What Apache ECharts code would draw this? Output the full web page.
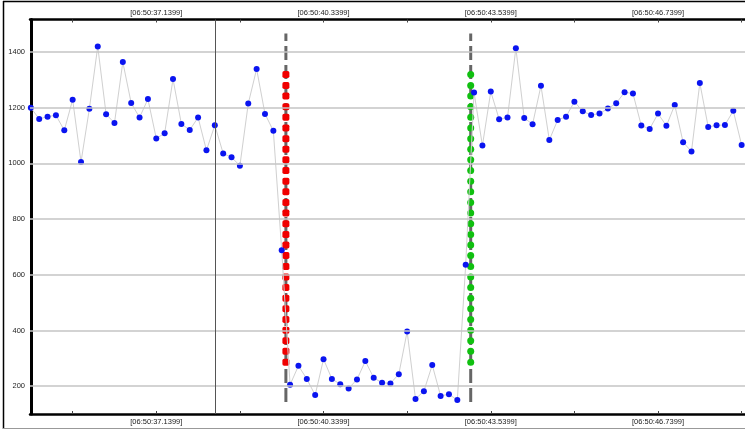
<!DOCTYPE html>
<html>
<head>
<meta charset="utf-8">
<script src="https://cdn.jsdelivr.net/npm/echarts@6/dist/echarts.min.js"></script>
<style>html,body{margin:0;padding:0;background:#fff;}#c{width:745px;height:430px;}</style>
</head>
<body>
<div id="c"></div>
<script>
// Sample readings, one every 0.16 s, starting at 06:50:34.7399
const values = [1200,1160,1168,1173,1119,1229,1005,1196,1420,1177,
  1145,1364,1217,1165,1231,1090,1108,1303,1142,1120,
  1165,1047,1137,1036,1022,992,1215,1339,1178,1117,
  688,205,273,226,168,297,226,207,192,224,
  290,230,212,210,243,396,154,182,276,165,
  171,150,636,1255,1064,1258,1159,1165,1414,1163,
  1141,1279,1084,1156,1168,1222,1187,1174,1179,1197,
  1216,1256,1251,1136,1124,1179,1135,1210,1076,1043,
  1289,1131,1137,1138,1189,1066];
// Tick labels and the sample index where they sit
const tickLabels = ['[06:50:37.1399]','[06:50:40.3399]','[06:50:43.5399]','[06:50:46.7399]'];
const tickLabelIdx = [15,35,55,75];
const minorTickIdx = [5,15,25,35,45,55,65,75,85];
const yTicks = [200,400,600,800,1000,1200,1400];
// Cursor line position (sample index)
const cursorIdx = 22;
// Event marker columns (sample index) and the marker dot values
const redX = 30.5;
const greenX = 52.6;
const markerSpan = [143,1467];
const redDots = [1319,1280,1242,1204,1166,1127,1089,1051,1013,975,936,898,860,822,783,745,707,669,630,592,554,516,478,439,401,363,325,286];
const greenDots = [1319,1280,1242,1204,1166,1127,1089,1051,1013,975,936,898,860,822,783,745,707,669,630,592,554,516,478,439,401,363,325,286];

const chart = echarts.init(document.getElementById('c'), null, {renderer:'canvas'});
const FONT = 'Liberation Sans';
const fmt = v => { const i = tickLabelIdx.indexOf(Math.round(v)); return i >= 0 ? tickLabels[i] : ''; };
const xCommon = {
  type:'value', min:-0.1, max:85.4,
  splitLine:{show:false},
  axisTick:{show:true, inside:true, length:3, customValues:minorTickIdx, lineStyle:{color:'#444', width:1}},
  axisLabel:{customValues:tickLabelIdx, formatter:fmt, fontSize:7.5, fontFamily:FONT, color:'#222', margin:4},
  axisLine:{show:true, onZero:false, lineStyle:{color:'#000', width:2.5}}
};
const blueData = values.map((v,i)=>[i,v]);
chart.setOption({
  animation:false,
  backgroundColor:'#fff',
  grid:{left:30, right:0, top:19.5, bottom:16, containLabel:false},
  xAxis:[
    Object.assign({}, xCommon, {position:'bottom'}),
    Object.assign({}, xCommon, {position:'top', axisLabel:Object.assign({}, xCommon.axisLabel, {margin:3})})
  ],
  yAxis:{
    type:'value', min:100, max:1517,
    splitLine:{show:false},
    axisTick:{show:false},
    axisLine:{show:true, lineStyle:{color:'#000', width:3}},
    axisLabel:{customValues:yTicks, formatter:v=>String(v), fontSize:7.5, fontFamily:FONT, color:'#222', margin:5}
  },
  graphic:[
    {type:'line', shape:{x1:3.5,y1:1,x2:3.5,y2:429}, style:{stroke:'#000', lineWidth:1.5}, z:100},
    {type:'line', shape:{x1:3,y1:1.5,x2:745,y2:1.5}, style:{stroke:'#000', lineWidth:1.5}, z:100},
    {type:'line', shape:{x1:3,y1:428.5,x2:745,y2:428.5}, style:{stroke:'#999', lineWidth:1}, z:100}
  ],
  series:[
    {
      type:'line', data:blueData, symbol:'none', silent:true, z:1,
      lineStyle:{opacity:0},
      markLine:{
        silent:true, symbol:'none', animation:false,
        label:{show:false},
        data: yTicks.map(v=>({yAxis:v, lineStyle:{color:'#c4c4c4', width:1.5, type:'solid'}}))
          .concat([{xAxis:cursorIdx, lineStyle:{color:'#555', width:1, type:'solid'}}])
      }
    },
    {
      type:'line', data:[[redX,markerSpan[0]],[redX,markerSpan[1]]], symbol:'none', z:2, silent:true,
      lineStyle:{color:'#666', width:3, type:[14,5]}
    },
    {
      type:'line', data:[[greenX,markerSpan[0]],[greenX,markerSpan[1]]], symbol:'none', z:2, silent:true,
      lineStyle:{color:'#666', width:3, type:[14,5]}
    },
    {
      type:'scatter', data:redDots.map(v=>[redX,v]), symbol:'roundRect', symbolSize:7, z:3,
      itemStyle:{color:'#f00000', opacity:1}
    },
    {
      type:'scatter', data:greenDots.map(v=>[greenX,v]), symbol:'circle', symbolSize:7, z:3,
      itemStyle:{color:'#10c010', opacity:1}
    },
    {
      type:'line', data:blueData, symbol:'circle', symbolSize:6, showSymbol:true, z:4,
      lineStyle:{color:'#d0d0d0', width:1},
      itemStyle:{color:'#0a14f0', borderWidth:0, opacity:1}
    }
  ]
});
</script>
</body>
</html>
